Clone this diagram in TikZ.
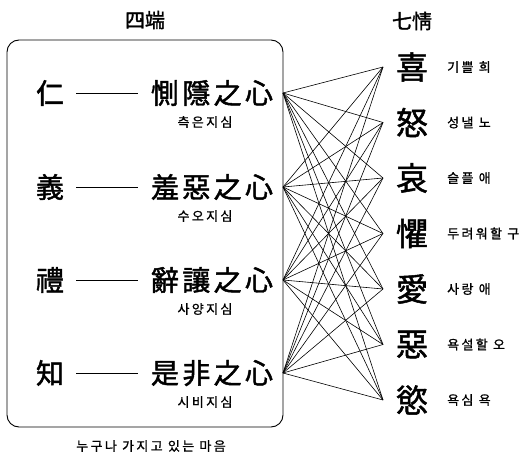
\documentclass[tikz,border=0pt]{standalone}
\usepackage{fontspec}
\newfontfamily\cjk{Noto Sans CJK KR}[FakeBold=1.6]
\newfontfamily\cjkph{Noto Sans CJK KR}[LetterSpace=12,FakeBold=1.6]
\newfontfamily\cjksm{Noto Sans CJK KR}[LetterSpace=18,FakeBold=1.0]
\begin{document}
\begin{tikzpicture}[x=1pt,y=-1pt,
  big/.style={font=\cjk\fontsize{28}{28}\selectfont, inner sep=0pt},
  phrase/.style={font=\cjkph\fontsize{28}{28}\selectfont, inner sep=0pt},
  small/.style={font=\cjksm\fontsize{13}{13}\selectfont, inner sep=0pt},
  bottomtxt/.style={font=\cjksm\fontsize{13}{13}\selectfont, inner sep=0pt},
  emo/.style={font=\cjk\fontsize{32}{32}\selectfont, inner sep=0pt},
  ttl/.style={font=\cjk\fontsize{20}{20}\selectfont, inner sep=0pt},
  link/.style={line width=0.6pt},
  dashline/.style={line width=0.8pt, shorten <=12pt, shorten >=13pt},
]
\useasboundingbox (0,0) rectangle (530,457);
% titles
\node[ttl] (t1) at (145,20) {四端};
\node[ttl] (t2) at (412,21) {七情};
% box
\node[draw, line width=0.9pt, rounded corners=12pt, minimum width=276pt, minimum height=387pt, inner sep=0pt] (box) at (145,233.5) {};
% rows
\foreach \n/\y/\a/\b/\k in {1/93/仁/惻隱之心/측은지심, 2/187/義/羞惡之心/수오지심, 3/280/禮/辭讓之心/사양지심, 4/373/知/是非之心/시비지심}{
  \node[big] (r\n) at (50,\y) {\a};
  \node[phrase] (p\n) at (212,\y) {\b};
  \node[small] (k\n) at (205,\y+29) {\k};
  \draw[dashline] (r\n.east) -- (p\n.west);
  \coordinate (s\n) at (283,\y);
}
% right column
\foreach \n/\c/\k in {1/喜/기쁠 희, 2/怒/성낼 노, 3/哀/슬플 애, 4/懼/두려워할 구, 5/愛/사랑 애, 6/惡/욕설할 오, 7/慾/욕심 욕}{
  \pgfmathsetmacro{\yy}{67+55.5*(\n-1)}
  \coordinate (e\n) at (383,\yy);
  \node[emo] (c\n) at (412,\yy) {\c};
  \node[small, anchor=west] (l\n) at (447,\yy) {\k};
}
% links
\foreach \i in {1,...,4}{
  \foreach \j in {1,...,7}{
    \draw[link] (s\i) -- (e\j);
  }
}
% bottom
\node[bottomtxt] (b) at (151,446) {누구나 가지고 있는 마음};
\end{tikzpicture}
\end{document}
